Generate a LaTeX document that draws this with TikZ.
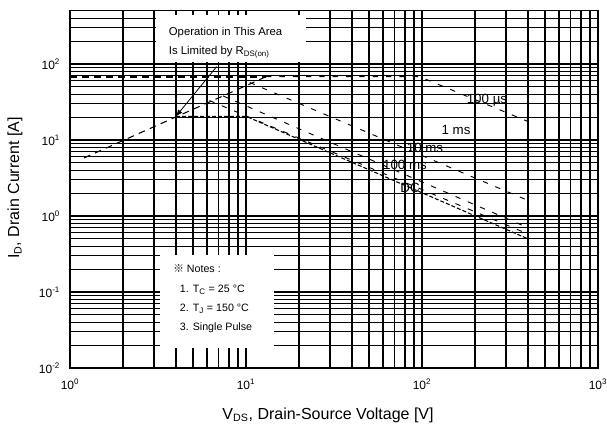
\documentclass[tikz,border=0pt]{standalone}
\usepackage{fontspec}
\setmainfont{Liberation Sans}
\newfontfamily\cjkfont{Noto Sans CJK KR}
\usetikzlibrary{arrows.meta, positioning}

\begin{document}
\begin{tikzpicture}[x = 132pt, y = 57pt, font = \fontsize{9}{10}\selectfont,
    griglia/.style = {line width = 0.9pt},
    impulso/.style = {line width = 0.7pt, dash pattern = on 4pt off 6pt},
    continua/.style = {line width = 0.8pt, dash pattern = on 3pt off 1.5pt},
    etichetta/.style = {font = \fontsize{10}{11}\selectfont, inner sep = 1pt}]
    % Parametri
    \pgfmathsetmacro{\xmax}{3}
    \pgfmathsetmacro{\ymin}{-2}
    \pgfmathsetmacro{\ymax}{log10(500)}
    \useasboundingbox (-0.398,-2.816) rectangle (3.051,2.842);
    % Griglia
    \foreach \d in {0,1,2}
        \foreach \k in {1,...,9}
            \draw[griglia] ({\d+log10(\k)},\ymin) -- ({\d+log10(\k)},\ymax);
    \foreach \d in {-2,...,1}
        \foreach \k in {1,...,9}
            \draw[griglia] (0,{\d+log10(\k)}) -- (\xmax,{\d+log10(\k)});
    \foreach \k in {1,...,4}
        \draw[griglia] (0,{2+log10(\k)}) -- (\xmax,{2+log10(\k)});
    \draw[griglia] (0,\ymin) rectangle (\xmax,\ymax);
    % Riquadri bianchi
    \fill[white] (0.489,2.026) rectangle (1.341,2.645);
    \fill[white] (0.511,-1.737) rectangle (1.159,-0.513);
    % Etichette assi
    \foreach \d in {0,...,3}
        \node[anchor = north] (xt\d) at (\d,\ymin-0.08) {10\textsuperscript{\d}};
    \foreach \d in {-2,...,2}
        \node[anchor = east] (yt\d) at (-0.03,\d) {10\textsuperscript{\d}};
    \node[font = \fontsize{12}{14}\selectfont] (xlab) at (1.466,-2.618) {V\textsubscript{DS}, Drain-Source Voltage [V]};
    \node[font = \fontsize{12}{14}\selectfont, rotate = 90] (ylab) at (-0.3125,0.368) {I\textsubscript{D}, Drain Current [A]};
    % Limite R_DS(on) e corrente impulsiva
    \draw[line width = 0.8pt, dash pattern = on 5pt off 4pt] ({log10(1.2)},{log10(5.8)}) -- ({log10(13)},{log10(68)});
    \draw[line width = 1.3pt, dash pattern = on 5pt off 4pt] (0,{log10(68)}) -- ({log10(13)},{log10(68)});
    % Curve SOA
    \draw[impulso] ({log10(13)},{log10(68)}) -- ({log10(97)},{log10(68)}) -- ({log10(400)},{log10(17.5)});
    \draw[impulso] ({log10(10.5)},{log10(57)}) -- ({log10(400)},{log10(1.6)});
    \draw[impulso] ({log10(7.4)},{log10(38)}) -- ({log10(400)},{log10(0.7)});
    \draw[impulso] ({log10(6.2)},{log10(33)}) -- ({log10(400)},{log10(0.58)});
    \draw[continua] ({log10(4)},{log10(20.5)}) -- ({log10(10)},{log10(20.5)}) -- ({log10(400)},{log10(0.5)});
    \node[etichetta] (us100) at (2.369,1.526) {100 µs};
    \node[etichetta] (ms1) at (2.193,1.132) {1 ms};
    \node[etichetta] (ms10) at (2.017,0.895) {10 ms};
    \node[etichetta] (ms100) at (1.903,0.671) {100 ms};
    \node[etichetta] (dc) at (1.932,0.368) {DC};
    % Note
    \node[font = \fontsize{8.5}{14}\selectfont, align = left, anchor = west] (limite) at (0.535,2.283)
        {Operation in This Area\\Is Limited by R\textsubscript{DS(on)}};
    \coordinate (pstart) at ({log10(6.8)},{log10(92)});
    \coordinate (punto) at ({log10(4)},{log10(20.5)});
    \draw[-{Latex[length = 5pt, width = 4pt]}, line width = 0.6pt] (pstart) -- (punto);
    \node[font = \fontsize{8}{14.5}\selectfont, align = left, anchor = west] (note) at (0.56,-1.092)
        {{\cjkfont ※} Notes :\\\hspace*{5pt}1. T\textsubscript{C} = 25 °C\\\hspace*{5pt}2. T\textsubscript{J} = 150 °C\\\hspace*{5pt}3. Single Pulse};
\end{tikzpicture}
\end{document}
